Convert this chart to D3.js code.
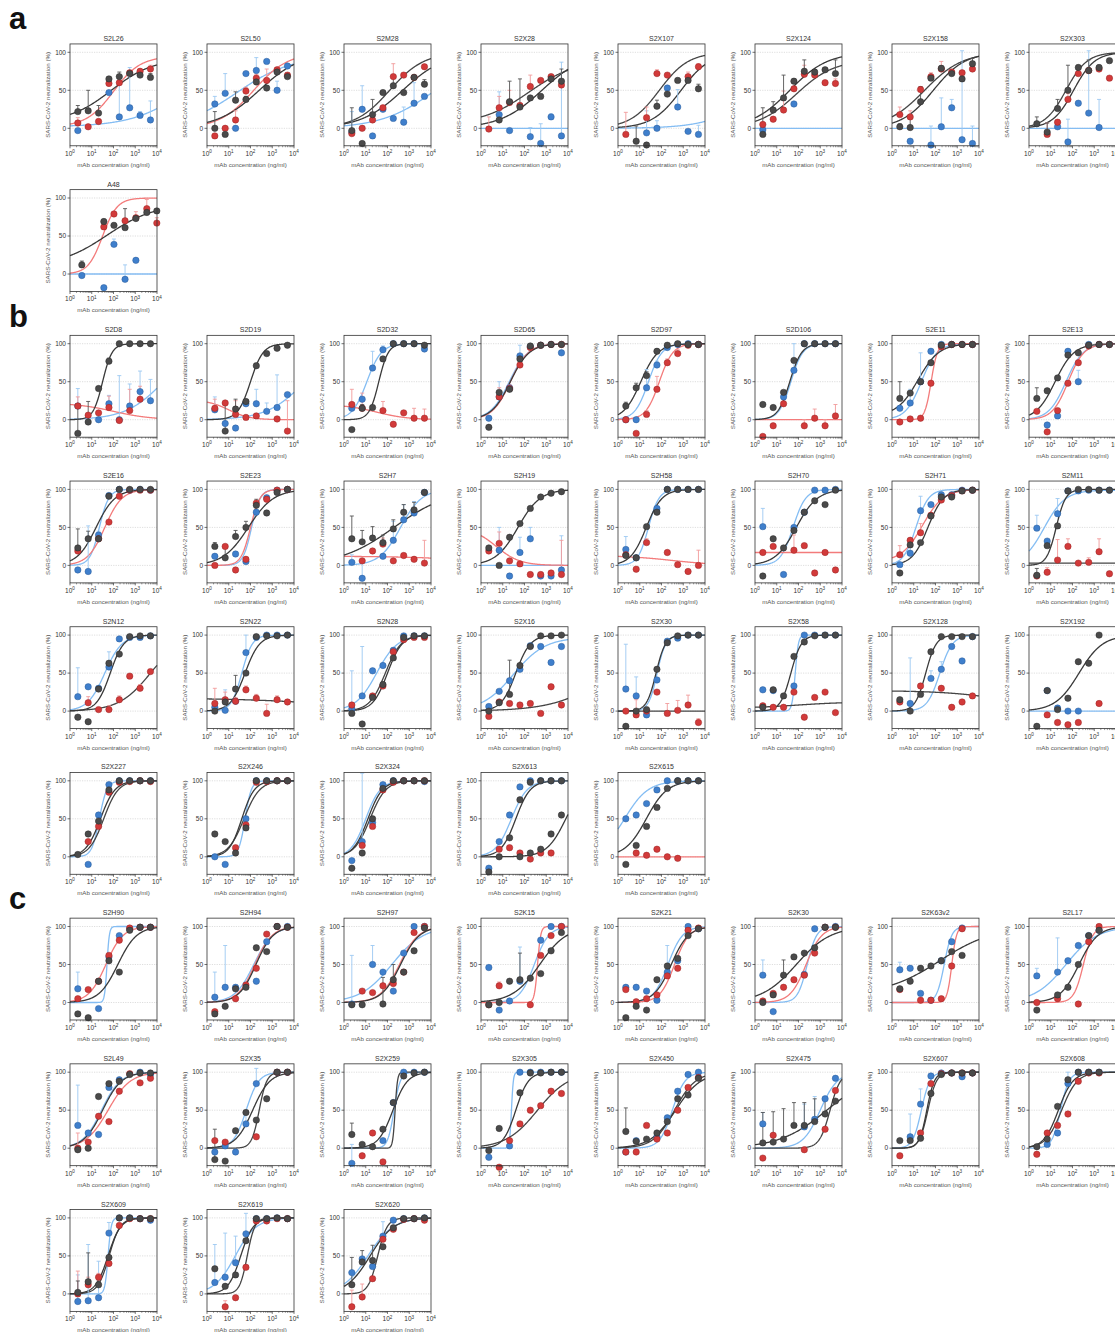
<!DOCTYPE html>
<meta charset="utf-8">
<script src="https://cdn.jsdelivr.net/npm/d3@7"></script>
<style>
	body{
		margin:0;
		background:#fff;
		font-family:'Liberation Sans', Arial, sans-serif;
	}
</style>
<div id="fig"></div>
<script>
// concentrations (ng/ml), 3-fold from 5000
var conc = [2.29, 6.86, 20.6, 61.7, 185, 556, 1667, 5000]
var concA48 = [3.5, 36, 105, 340, 1070, 3400, 9800]
var xTicks = [1, 10, 100, 1000, 10000]
var xTickExp = ["0", "1", "2", "3", "4"]
var yTicks = [0, 50, 100]
var sectionLabels = ["a", "b", "c"]

// fits: [bottom, top, logEC50, hill]
var sectionA = [
	{t:"S2L26", k:[22,23,20,65,68,72,70,67], ek:[8,27,10,3,6,3,5,5], r:[7,2,9,59,60,73,75,78], er:[7,0,3,8,5,3,3,5], b:[-3,null,null,47,15,27,17,11], eb:[0,0,0,0,45,53,5,25], fk:[8,92,1.9,0.45], fr:[2,95,2.0,0.7], fb:[2,100,5.4,0.35]},
	{t:"S2L50", k:[0,-8,37,38,61,53,74,68], ek:[22,0,11,4,4,2,3,3], r:[-10,0,11,49,66,63,77,70], er:[0,0,12,5,5,15,0,3], b:[32,46,0,72,76,88,50,82], eb:[10,26,0,0,17,0,12,0], fk:[0,100,2.4,0.45], fr:[0,100,2.15,0.55], fb:[0,95,1.4,0.35]},
	{t:"S2M28", k:[-3,-20,18,47,56,47,67,58], ek:[30,0,20,3,10,3,3,6], r:[-7,0,11,27,68,70,67,81], er:[0,0,5,3,17,3,0,0], b:[-5,25,-10,25,13,8,33,42], eb:[27,31,0,0,0,20,27,0], fk:[0,100,2.7,0.45], fr:[0,100,2.1,0.55], fb:[0,100,4.2,0.35]},
	{t:"S2X28", k:[null,11,35,28,40,42,65,62], ek:[0,0,27,37,0,3,3,16], r:[-1,27,34,30,55,63,68,57], er:[16,15,16,3,15,0,3,5], b:[null,18,-3,null,-11,-20,15,-10], eb:[0,30,0,0,12,26,4,97], fk:[0,100,2.8,0.45], fr:[5,90,2.2,0.4], fb:[0,0,2,1]},
	{t:"S2X107", k:[null,-17,-22,29,45,63,63,52], ek:[0,20,0,8,0,3,3,6], r:[-8,null,14,72,70,null,68,81], er:[29,0,14,5,0,0,6,4], b:[null,null,-6,0,53,28,-4,-8], eb:[0,0,29,10,0,23,0,12], fk:[0,100,2.9,0.65], fr:[0,100,1.9,0.65], fb:[0,100,6.5,0.4]},
	{t:"S2X124", k:[-8,24,40,62,75,74,77,72], ek:[35,11,30,3,15,3,0,18], r:[5,12,24,52,71,70,60,59], er:[3,3,25,3,12,5,3,6], b:[-2,null,null,32,null,null,null,null], eb:[8,0,0,0,0,0,0,0], fk:[0,100,1.6,0.5], fr:[0,90,1.9,0.5], fb:[0,0,2,1]},
	{t:"S2X158", k:[2,1,35,66,79,72,65,85], ek:[4,15,20,3,3,3,3,7], r:[18,15,51,68,78,74,73,78], er:[10,8,0,5,10,0,0,0], b:[null,-17,null,-22,2,27,-15,-20], eb:[0,0,0,25,38,11,117,23], fk:[0,100,1.9,0.6], fr:[0,100,1.5,0.5], fb:[0,0,2,1]},
	{t:"S2X303", k:[6,-5,26,50,80,76,80,89], ek:[9,12,12,33,3,14,3,0], r:[null,-8,8,38,72,76,78,66], er:[0,15,3,8,5,0,0,0], b:[null,null,2,-18,33,20,1,null], eb:[0,0,0,30,0,82,37,0], fk:[0,100,2.05,0.9], fr:[0,100,1.7,0.9], fb:[0,0,2,1]},
	{t:"A48", c:concA48, k:[12,69,64,61,73,81,83], ek:[5,3,3,25,3,3,3], r:[null,62,79,70,74,86,67], er:[0,0,3,0,8,12,7], b:[-2,-18,39,-7,18,null,null], eb:[0,0,7,19,0,0,0], fk:[10,92,1.7,0.4], fr:[0,100,1.5,1.3], fb:[0,0,2,1]}
]

var sectionB = [
	{t:"S2D8", k:[-18,-3,41,77,100,100,100,100], ek:[36,27,0,4,0,0,0,0], r:[18,6,9,16,-1,12,27,null], er:[12,0,0,15,0,28,17,0], b:[18,null,0,21,0,18,37,25], eb:[23,0,0,11,58,29,27,28], fk:[0,100,1.5,2.0], fr:[0,22,2.0,-0.5], fb:[0,100,4.3,0.5]},
	{t:"S2D19", k:[null,-15,14,24,71,87,94,98], ek:[0,37,13,0,3,3,3,0], r:[15,22,7,3,5,null,1,-15], er:[12,0,18,3,0,0,0,40], b:[13,-5,-11,21,21,11,16,33], eb:[17,0,0,0,19,11,43,0], fk:[0,100,2.0,1.5], fr:[0,26,1.0,-0.9], fb:[0,100,4.5,0.5]},
	{t:"S2D32", k:[-13,15,16,80,100,100,100,98], ek:[0,5,0,3,0,0,0,0], r:[20,15,null,12,-6,9,2,2], er:[20,20,0,12,0,0,13,12], b:[15,27,68,92,100,100,100,93], eb:[0,0,22,5,0,0,0,0], fk:[0,100,1.6,2.0], fr:[0,20,1.5,-0.6], fb:[0,100,1.05,1.3]},
	{t:"S2D65", k:[-10,36,40,80,97,98,99,99], r:[null,30,41,72,95,98,99,99], er:[0,12,5,0,0,0,0,0], b:[2,30,42,84,96,98,99,88], eb:[0,20,0,14,0,0,0,0], fk:[0,100,1.35,1.0], fr:[0,100,1.35,1.05], fb:[0,100,1.3,1.0]},
	{t:"S2D97", k:[18,42,58,90,98,100,99,99], ek:[5,6,5,3,0,0,0,0], r:[0,-18,7,40,75,87,98,99], er:[0,0,5,17,5,5,0,0], b:[0,0,42,72,95,99,100,99], eb:[0,0,24,5,0,0,0,0], fk:[0,100,1.05,1.1], fr:[0,100,1.9,1.4], fb:[0,100,1.4,1.4]},
	{t:"S2D106", k:[20,16,36,78,100,100,100,100], r:[-22,-8,21,null,-8,2,-8,5], er:[0,0,0,0,8,12,8,15], b:[null,null,30,65,100,100,100,100], eb:[0,0,0,35,0,0,0,0], fk:[0,100,1.6,1.6], fr:[0,0,2,1], fb:[0,100,1.65,1.6]},
	{t:"S2E11", k:[28,35,50,75,98,99,99,99], ek:[22,0,0,0,0,0,0,0], r:[-3,1,2,48,96,99,99,99], b:[15,22,50,90,99,99,99,99], eb:[0,18,38,0,0,0,0,0], fk:[5,100,1.2,0.9], fr:[0,100,1.8,3.0], fb:[0,100,1.35,1.2]},
	{t:"S2E13", k:[28,38,55,85,88,98,99,99], ek:[14,0,0,0,0,0,0,0], r:[11,-16,12,48,75,97,99,99], b:[null,-7,5,90,50,99,99,99], eb:[0,0,0,0,15,0,0,0], fk:[0,100,1.2,1.0], fr:[0,100,1.8,1.2], fb:[0,100,1.7,1.1]},

	{t:"S2E16", k:[23,35,35,91,100,100,100,100], ek:[25,10,5,3,0,0,0,0], r:[19,null,35,57,91,99,99,99], b:[-6,-8,40,92,100,99,100,99], eb:[0,60,5,0,0,0,0,0], fk:[0,100,1.2,1.0], fr:[0,100,1.6,1.1], fb:[0,100,1.35,2.0]},
	{t:"S2E23", k:[25,10,38,50,79,69,96,100], ek:[5,15,8,8,8,3,3,0], r:[0,25,-6,8,82,87,99,100], b:[12,null,15,5,70,89,99,100], fk:[0,100,1.9,0.75], fr:[0,100,2.0,2.0], fb:[0,100,2.05,2.2]},
	{t:"S2H7", k:[35,31,36,30,48,70,73,96], ek:[30,15,15,10,12,10,10,3], r:[null,6,19,28,6,13,8,3], er:[0,0,0,8,0,0,0,30], b:[4,-17,null,12,33,60,69,96], eb:[10,20,0,0,25,20,15,0], fk:[0,100,2.3,0.35], fr:[0,12,6,-0.3], fb:[0,100,2.6,0.9]},
	{t:"S2H19", k:[23,0,37,55,75,90,95,97], r:[19,29,6,2,-12,-12,-10,-12], er:[0,15,0,0,0,0,0,45], b:[null,20,-14,17,35,-14,-14,-6], eb:[0,30,0,20,15,0,0,45], fk:[0,100,1.7,0.85], fr:[0,50,0.7,-0.8], fb:[0,0,2,1]},
	{t:"S2H58", k:[13,10,51,70,100,100,100,100], r:[14,-5,30,null,17,1,-8,0], er:[0,0,5,0,0,0,0,20], b:[21,10,null,75,100,100,100,100], eb:[17,0,0,0,0,0,0,0], fk:[0,100,1.3,1.2], fr:[0,13,2.5,-0.4], fb:[0,100,1.4,1.8]},
	{t:"S2H70", k:[-14,35,23,46,70,85,80,99], r:[17,25,null,20,26,-10,17,-6], er:[0,0,0,20,0,0,0,0], b:[51,null,-12,50,70,99,99,100], eb:[24,0,0,0,0,0,0,0], fk:[0,100,1.9,0.9], fr:[17,17,2,1], fb:[0,100,1.75,1.5]},
	{t:"S2H71", k:[-10,27,30,65,90,90,98,99], r:[14,33,43,66,86,92,98,99], er:[12,0,12,0,0,0,0,0], b:[1,16,72,80,93,93,99,99], eb:[0,12,19,0,0,0,0,0], fk:[0,100,1.65,1.2], fr:[5,100,1.4,0.9], fb:[0,100,1.1,1.5]},
	{t:"S2M11", k:[-13,26,52,98,100,100,99,99], ek:[9,7,0,0,0,0,0,0], r:[-14,-9,7,25,3,4,18,-11], er:[0,6,27,10,0,6,17,0], b:[49,32,68,98,98,99,99,99], eb:[17,0,20,0,0,0,0,0], fk:[0,100,1.25,2.0], fr:[3,3,2,1], fb:[0,99,0.7,0.9]},

	{t:"S2N12", k:[-8,-14,29,63,75,98,99,99], r:[null,11,2,2,15,46,30,52], er:[0,8,0,5,5,0,5,3], b:[19,32,30,58,95,97,97,99], eb:[38,0,0,20,0,0,0,0], fk:[0,100,1.85,1.4], fr:[0,100,3.7,0.6], fb:[0,100,1.6,1.1]},
	{t:"S2N22", k:[0,12,29,50,98,99,99,100], ek:[0,0,18,0,0,0,0,0], r:[10,15,13,28,17,-3,15,12], er:[20,10,5,5,5,12,5,3], b:[5,1,13,77,97,100,100,100], eb:[0,27,0,23,0,0,0,0], fk:[0,100,1.75,1.3], fr:[0,17,6,-0.2], fb:[0,100,1.6,1.8]},
	{t:"S2N28", k:[-3,-17,18,35,70,97,99,99], r:[8,null,20,33,78,94,97,97], b:[3,20,53,60,80,99,99,99], eb:[50,65,0,0,0,0,0,0], fk:[0,100,2.0,1.3], fr:[0,100,1.9,1.2], fb:[0,100,1.5,0.9]},
	{t:"S2X16", k:[0,11,22,60,85,99,99,100], ek:[0,0,45,0,0,0,0,0], r:[-7,12,10,8,10,-3,32,8], b:[6,26,40,55,86,85,64,85], fk:[0,100,1.6,1.3], fr:[0,100,6,0.35], fb:[0,97,1.5,0.6]},
	{t:"S2X30", k:[-20,0,2,55,90,99,100,100], r:[0,-5,0,25,-3,1,8,-15], er:[0,20,0,0,13,13,13,5], b:[29,20,-5,41,92,96,100,100], eb:[59,25,0,0,0,0,0,0], fk:[0,100,1.75,2.0], fr:[0,0,2,1], fb:[0,100,1.8,2.2]},
	{t:"S2X58", k:[5,28,20,72,91,99,100,100], r:[7,5,5,25,-8,18,25,-2], b:[28,27,null,33,100,100,100,100], fk:[0,100,1.65,1.8], fr:[4,12,2,0.4], fb:[0,100,1.85,6]},
	{t:"S2X128", k:[15,0,22,78,98,98,98,98], r:[12,null,33,null,30,5,12,20], b:[null,10,null,43,55,85,66,98], eb:[0,60,0,10,10,0,0,0], fk:[0,100,1.55,1.8], fr:[0,27,5.5,-0.3], fb:[0,100,2.2,1.5]},
	{t:"S2X192", k:[-20,27,2,17,65,63,100,null], r:[null,-5,-15,-18,-15,null,10,null], b:[null,27,4,0,0,null,null,null], fk:[0,100,2.3,0.8], fb:[0,0,2,1]},

	{t:"S2X227", k:[3,30,47,88,100,100,100,100], r:[null,20,40,85,98,99,100,99], b:[null,-10,55,95,100,100,100,100], fk:[0,100,1.4,1.3], fr:[0,100,1.55,1.3], fb:[0,100,1.35,2.5]},
	{t:"S2X246", k:[30,20,5,38,100,100,100,100], r:[null,null,12,42,98,99,100,100], b:[0,-10,null,50,100,100,100,100], fk:[0,100,1.6,1.5], fr:[0,100,1.7,1.2], fb:[0,100,1.75,3]},
	{t:"S2X324", k:[-15,5,50,90,100,100,100,100], r:[null,15,40,88,98,100,100,100], b:[-5,20,45,95,100,100,100,99], eb:[0,90,0,0,0,0,0,0], fk:[0,100,1.1,1.3], fr:[0,100,1.2,1.2], fb:[0,100,1.0,1.3]},
	{t:"S2X613", k:[-20,0,25,75,98,100,100,100], k2:[null,null,null,0,5,10,30,55], r:[null,10,12,5,-3,5,5,null], b:[-15,20,55,92,100,100,100,100], fk:[0,100,1.6,1.3], fk2:[0,100,3.9,1.0], fb:[0,100,1.4,1.2]},
	{t:"S2X615", k:[-10,15,40,65,90,100,100,100], r:[null,5,2,10,0,-2,null,null], b:[50,55,70,88,100,100,100,100], fk:[0,100,1.3,0.9], fr:[0,0,2,1], fb:[0,100,0.3,0.8]}
]

var sectionC = [
	{t:"S2H90", k:[-15,-20,28,55,40,95,99,99], r:[5,17,28,62,82,98,99,99], b:[18,null,-8,60,88,97,99,99], eb:[22,0,0,0,0,0,0,0], fk:[0,100,2.2,1.0], fr:[0,100,1.65,1.1], fb:[0,100,1.7,8]},
	{t:"S2H94", k:[-15,-5,18,20,72,67,100,99], r:[-12,null,5,23,45,90,100,99], b:[7,20,20,null,28,80,100,100], eb:[33,55,0,0,0,0,0,0], fk:[0,100,2.25,1.1], fr:[0,100,2.2,1.1], fb:[0,100,2.15,1.0]},
	{t:"S2H97", k:[-3,-3,null,-2,30,40,68,98], ek:[0,0,0,35,20,0,0,0], r:[null,15,13,22,25,40,92,100], b:[-2,null,50,40,15,65,100,100], eb:[64,0,25,0,0,0,0,0], fk:[0,100,2.6,1.0], fr:[0,100,2.55,1.0], fb:[0,100,2.2,0.6]},
	{t:"S2K15", k:[-3,0,28,30,32,38,68,92], ek:[0,0,0,35,0,0,0,0], r:[-3,22,null,null,-3,62,88,100], er:[0,5,0,0,0,0,0,0], b:[46,-10,2,28,null,82,100,100], eb:[0,0,0,45,0,0,0,0], fk:[0,100,2.7,0.7], fr:[0,100,2.6,6], fb:[0,100,2.45,1.3]},
	{t:"S2K21", k:[-20,-5,-10,30,48,58,88,97], r:[17,1,5,10,35,45,95,98], b:[20,20,15,3,40,55,100,97], eb:[0,0,0,0,35,0,0,0], fk:[0,100,2.45,1.1], fr:[0,100,2.6,1.3], fb:[0,100,2.3,1.3]},
	{t:"S2K30", k:[0,10,36,60,65,72,99,99], ek:[0,0,20,0,0,0,0,0], r:[2,12,20,30,36,65,99,99], b:[36,-12,null,null,37,97,99,100], eb:[20,0,0,0,0,0,0,0], fk:[0,100,1.9,0.55], fr:[0,100,2.35,1.2], fb:[0,100,2.4,2.0]},
	{t:"S2K63v2", k:[18,28,45,48,55,67,62,null], r:[17,null,3,3,5,48,97,null], b:[43,45,12,3,55,80,98,null], eb:[10,0,0,0,0,0,0,0], fk:[10,100,2.2,0.35], fr:[0,100,2.75,4], fb:[0,100,2.4,2.5]},
	{t:"S2L17", k:[-10,null,10,20,50,88,95,null], r:[0,null,5,null,-2,80,100,null], b:[35,null,40,55,75,88,95,null], eb:[10,0,45,0,0,0,0,0], fk:[0,100,2.3,1.0], fr:[0,100,2.5,2.0], fb:[0,100,1.7,0.6]},

	{t:"S2L49", k:[-2,0,68,85,88,97,99,99], r:[0,8,42,35,75,98,86,92], er:[20,0,0,0,0,0,0,0], b:[30,20,18,80,90,null,100,97], eb:[53,0,0,0,0,0,0,0], fk:[0,100,1.5,1.0], fr:[0,100,1.75,0.85], fb:[0,100,1.45,1.0]},
	{t:"S2X35", k:[-15,-17,23,47,37,65,100,100], ek:[40,0,0,0,0,0,0,0], r:[10,8,null,null,15,null,100,100], b:[-5,3,-5,32,85,null,100,100], eb:[0,0,0,15,20,0,0,0], fk:[0,100,2.1,1.1], fr:[0,100,2.4,2.5], fb:[0,100,1.8,1.5]},
	{t:"S2X259", k:[18,5,2,25,60,95,99,100], ek:[15,0,0,0,0,0,0,0], r:[null,-10,20,-18,null,null,null,null], b:[-20,null,null,10,60,100,100,100], eb:[25,0,0,0,0,0,0,0], fk:[0,100,2.25,1.3], fr:[0,100,2.35,8], fb:[0,100,2.3,3]},
	{t:"S2X305", k:[-3,26,null,73,99,99,100,100], r:[null,-25,10,32,50,56,75,72], b:[-12,null,3,100,100,100,100,100], fk:[0,100,1.6,1.5], fr:[0,100,2.6,0.6], fb:[0,100,1.4,10]},
	{t:"S2X450", k:[22,9,12,20,35,65,70,92], ek:[31,0,0,0,0,0,0,0], r:[-5,-5,30,12,20,50,80,93], b:[-5,10,null,15,40,75,97,100], fk:[0,100,2.65,0.75], fr:[0,100,2.6,0.9], fb:[0,100,2.5,1.5]},
	{t:"S2X475", k:[7,8,12,30,30,35,45,62], ek:[40,40,40,30,30,30,20,0], r:[-13,17,null,null,-2,null,25,76], b:[32,null,null,null,28,38,65,92], eb:[15,0,0,0,30,30,0,0], fk:[0,100,3.3,0.4], fr:[0,100,3.45,1.8], fb:[0,100,3.0,1.1]},
	{t:"S2X607", k:[10,10,13,72,97,99,99,99], r:[-10,null,20,85,98,99,99,99], b:[null,15,58,95,99,99,94,99], eb:[0,30,20,0,0,0,0,0], fk:[0,100,1.6,2.5], fr:[0,100,1.65,2.2], fb:[0,100,1.35,2.2]},
	{t:"S2X608", k:[2,12,55,90,100,100,100,null], r:[-8,20,30,45,88,99,99,null], b:[null,5,20,85,100,100,100,null], eb:[0,0,0,15,0,0,0,0], fk:[0,100,1.35,1.3], fr:[0,100,1.5,1.2], fb:[0,100,1.45,2.2]},

	{t:"S2X609", k:[2,16,12,48,100,100,99,99], ek:[15,38,5,0,0,0,0,0], r:[0,12,22,40,90,99,99,99], er:[30,10,5,0,0,0,0,0], b:[-10,-9,-5,80,100,100,99,97], eb:[35,74,48,14,0,0,0,0], fk:[0,100,1.75,1.5], fr:[0,100,1.8,1.7], fb:[0,100,1.75,6]},
	{t:"S2X619", k:[33,10,25,70,99,99,100,99], r:[null,-17,-5,35,96,96,99,99], er:[0,8,0,0,0,0,0,0], b:[15,22,41,79,99,99,100,99], eb:[50,58,35,27,0,0,0,0], fk:[0,100,1.55,1.5], fr:[0,100,1.85,2.5], fb:[0,100,1.3,0.9]},
	{t:"S2X620", k:[12,42,44,62,87,99,99,100], ek:[36,15,20,0,0,0,0,0], r:[-17,-4,20,72,85,98,99,97], er:[22,17,0,0,0,0,0,0], b:[28,46,36,76,97,99,99,100], eb:[0,0,0,19,0,0,0,0], fk:[0,100,1.2,0.8], fr:[0,100,1.55,2.0], fb:[0,100,1.1,0.75]}
]

// panels whose red-series fit is drawn in dark grey
var darkRedFit = ["S2M28","S2X28","S2X107","S2X124","S2X158","S2X303","S2M11","S2N12","S2N22","S2N28","S2X16","S2X30","S2X58","S2X128","S2X227","S2X246","S2X324","S2X35","S2X259","S2X305","S2X450","S2X475","S2X607","S2X608","S2X609","S2X619","S2X620"]

var W = 1115, H = 1332
var colW = 137, rowH = 145.7
var plotW = 87

var ptCol = {k:"#4a4a4a", k2:"#4a4a4a", r:"#d23a3a", b:"#3f7fcc"}
var ptEdge = {k:"#2a2a2a", k2:"#2a2a2a", r:"#9b2424", b:"#2a5c9a"}
var lineCol = {k:"#3a3a3a", k2:"#3a3a3a", r:"#f37b7b", b:"#84bdf3"}
var errCol = {k:"#555", k2:"#555", r:"#f29b9b", b:"#9cc8f2"}

var svg = d3.select("#fig").append("svg").attr("width",W).attr("height",H)

function fit4(f, lx){
	if(f[0]===f[1]) return f[0]
	return f[0] + (f[1]-f[0])/(1+Math.pow(10,(f[2]-lx)*f[3]))
}

function drawPanel(p, row, col){
	var left = 70 + colW*col
	var y100 = 52.3 + rowH*row
	var x = d3.scaleLog().domain([1,10000]).range([left, left+plotW])
	var y = d3.scaleLinear().domain([-23,111]).range([y100+123*0.76, y100-11*0.76])
	var top = y(111), bottom = y(-23)
	var g = svg.append("g")
	var cs = p.c || conc

	// dotted grid at 0/50/100
	g.selectAll(".grid").data(yTicks).join("line")
		.attr("x1",left).attr("x2",left+plotW)
		.attr("y1",function(d){return y(d)}).attr("y2",function(d){return y(d)})
		.attr("stroke","#c8c8c8").attr("stroke-width",0.6).attr("stroke-dasharray","1.2,1.2")

	// fitted curves
	var lxs = d3.range(0,4.001,0.02)
	var fits = [["fb","b"],["fr","r"],["fk2","k2"],["fk","k"]]
	fits.forEach(function(fs){
		var f = p[fs[0]]
		if(!f) return
		var col = lineCol[fs[1]]
		if(fs[1]=="r" && darkRedFit.indexOf(p.t)>=0) col = "#454545"
		var line = d3.line()
			.x(function(lx){return x(Math.pow(10,lx))})
			.y(function(lx){return y(fit4(f,lx))})
		g.append("path").attr("d",line(lxs)).attr("fill","none")
			.attr("stroke",col).attr("stroke-width",1.3)
	})

	// error bars then points
	var order = ["b","r","k2","k"]
	order.forEach(function(s){
		var vals = p[s]
		if(!vals) return
		var errs = p["e"+s] || []
		vals.forEach(function(v,i){
			if(v==null || !errs[i]) return
			var cx = x(cs[i])
			var ye = y(Math.min(v+errs[i],111))
			g.append("line").attr("x1",cx).attr("x2",cx).attr("y1",y(v)).attr("y2",ye)
				.attr("stroke",errCol[s]).attr("stroke-width",0.9)
			g.append("line").attr("x1",cx-2).attr("x2",cx+2).attr("y1",ye).attr("y2",ye)
				.attr("stroke",errCol[s]).attr("stroke-width",0.9)
		})
	})
	order.forEach(function(s){
		var vals = p[s]
		if(!vals) return
		g.selectAll(".pt"+s).data(vals.map(function(v,i){return [cs[i],v]}).filter(function(d){return d[1]!=null}))
			.join("circle")
			.attr("cx",function(d){return x(d[0])})
			.attr("cy",function(d){return y(d[1])})
			.attr("r",3.2)
			.attr("fill",ptCol[s]).attr("stroke",ptEdge[s]).attr("stroke-width",0.5)
	})

	// frame
	g.append("rect").attr("x",left).attr("y",top).attr("width",plotW).attr("height",bottom-top)
		.attr("fill","none").attr("stroke","#333").attr("stroke-width",0.8)

	// y ticks
	g.selectAll(".yt").data(yTicks).join("line")
		.attr("x1",left-2.5).attr("x2",left)
		.attr("y1",function(d){return y(d)}).attr("y2",function(d){return y(d)})
		.attr("stroke","#333").attr("stroke-width",0.7)
	g.selectAll(".yl").data(yTicks).join("text")
		.attr("x",left-4).attr("y",function(d){return y(d)+2.2})
		.attr("text-anchor","end").attr("font-size","6.5px").attr("fill","#333")
		.text(function(d){return d})

	// x ticks, with log minor ticks
	var minors = []
	for(var e=0;e<4;e++){
		for(var m=2;m<10;m++) minors.push(m*Math.pow(10,e))
	}
	g.selectAll(".xm").data(minors).join("line")
		.attr("x1",function(d){return x(d)}).attr("x2",function(d){return x(d)})
		.attr("y1",bottom).attr("y2",bottom+1.5)
		.attr("stroke","#333").attr("stroke-width",0.5)
	g.selectAll(".xt").data(xTicks).join("line")
		.attr("x1",function(d){return x(d)}).attr("x2",function(d){return x(d)})
		.attr("y1",bottom).attr("y2",bottom+2.5)
		.attr("stroke","#333").attr("stroke-width",0.7)
	var xl = g.selectAll(".xl").data(xTicks).join("text")
		.attr("x",function(d){return x(d)}).attr("y",bottom+10)
		.attr("text-anchor","middle").attr("font-size","6.5px").attr("fill","#333")
	xl.append("tspan").text("10")
	xl.append("tspan").attr("dy",-2.8).attr("font-size","4.6px").text(function(d,i){return xTickExp[i]})

	// labels
	g.append("text").attr("x",left+plotW/2).attr("y",top-3)
		.attr("text-anchor","middle").attr("font-size","7px").attr("fill","#333").text(p.t)
	g.append("text").attr("x",left+plotW/2).attr("y",bottom+21)
		.attr("text-anchor","middle").attr("font-size","6.2px").attr("fill","#555")
		.text("mAb concentration (ng/ml)")
	g.append("text")
		.attr("transform","translate("+(left-20)+","+((top+bottom)/2)+") rotate(-90)")
		.attr("text-anchor","middle").attr("font-size","6.2px").attr("fill","#555")
		.text("SARS-CoV-2 neutralization (%)")
}

function drawSection(list, firstRow){
	list.forEach(function(p,i){
		drawPanel(p, firstRow + Math.floor(i/8), i%8)
	})
}

// sections a (rows 0-1), b (rows 2-5), c (rows 6-8)
drawSection(sectionA.slice(0,8), 0)
drawPanel(sectionA[8], 1, 0)
drawSection(sectionB, 2)
drawSection(sectionC, 6)

var labelY = [29, 327, 909]
sectionLabels.forEach(function(l,i){
	svg.append("text").attr("x",9).attr("y",labelY[i])
		.attr("font-size","31px").attr("font-weight","bold").attr("fill","#111").text(l)
})
</script>
